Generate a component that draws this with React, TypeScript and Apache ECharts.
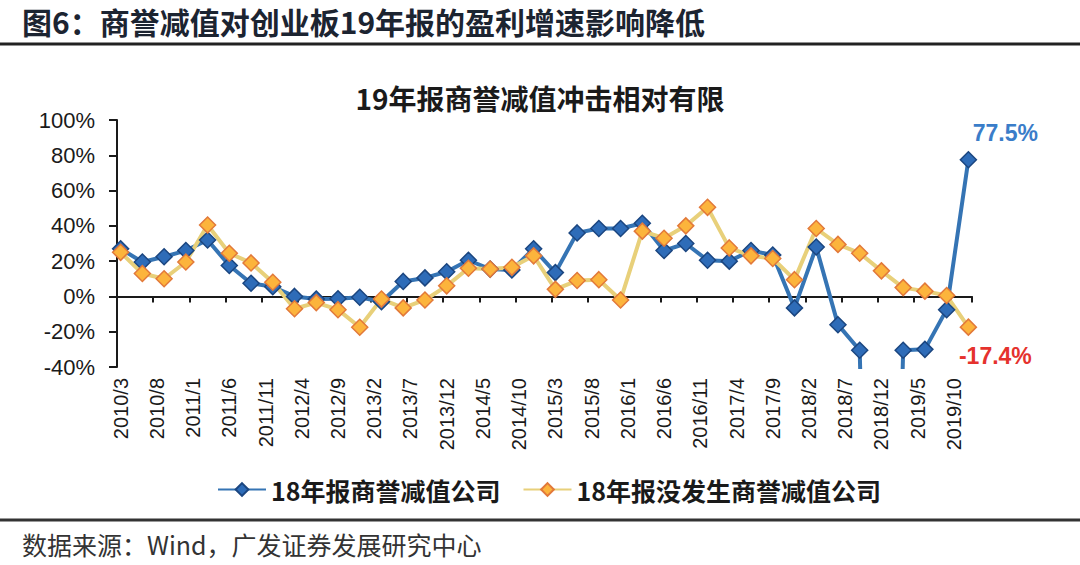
import React, { useEffect, useRef } from 'react';
import * as echarts from 'echarts';

const quarters = [
  '2010/3', '2010/6', '2010/9', '2010/12',
  '2011/3', '2011/6', '2011/9', '2011/12',
  '2012/3', '2012/6', '2012/9', '2012/12',
  '2013/3', '2013/6', '2013/9', '2013/12',
  '2014/3', '2014/6', '2014/9', '2014/12',
  '2015/3', '2015/6', '2015/9', '2015/12',
  '2016/3', '2016/6', '2016/9', '2016/12',
  '2017/3', '2017/6', '2017/9', '2017/12',
  '2018/3', '2018/6', '2018/9', '2018/12',
  '2019/3', '2019/6', '2019/9', '2019/12',
];

// 18年报商誉减值公司 (%), 2018/12 far below the axis minimum
const impairedCos = [
  27, 19.5, 22.5, 26,
  32, 17.5, 7.5, 5.5,
  0, -1.5, -1.3, -0.5,
  -3, 8.5, 10.5, 14,
  20.5, 15.5, 15, 27,
  13.5, 36, 38.5, 38.5,
  41.5, 26, 30, 20.5,
  20, 26, 23.5, -6.5,
  28, -16, -30.5, -500,
  -30.5, -30, -7.5, 77.5,
];

// 18年报没发生商誉减值公司 (%)
const nonImpairedCos = [
  25, 13, 10, 19.5,
  40.5, 24.5, 19, 8,
  -7, -3.5, -7.5, -17.5,
  -1.5, -6.5, -2, 6,
  16, 15.5, 16.5, 23,
  4, 9, 9.5, -2,
  37, 33, 40, 50.5,
  27.5, 23, 21.5, 9.5,
  38.5, 29.5, 24.5, 14.5,
  5, 3, 0.5, -17.4,
];

const seriesNames = ['18年报商誉减值公司', '18年报没发生商誉减值公司'];
const chartTitle = '19年报商誉减值冲击相对有限';
const headerText = '图6：商誉减值对创业板19年报的盈利增速影响降低';
const sourceText = '数据来源：Wind，广发证券发展研究中心';
const endLabels = ['77.5%', '-17.4%'];

function buildMonths(): string[] {
  const out: string[] = [];
  for (let y = 2010; y <= 2019; y++) {
    for (let m = 1; m <= 12; m++) {
      if (y === 2010 && m < 3) continue;
      out.push(`${y}/${m}`);
    }
  }
  return out;
}

const CJK = '"Noto Sans CJK SC", "Noto Sans", sans-serif';
const LATIN = '"Liberation Sans", Arial, sans-serif';

export default function App() {
  const ref = useRef<HTMLDivElement>(null);

  useEffect(() => {
    if (!ref.current) return;
    const chart = echarts.init(ref.current, undefined, { renderer: 'svg' });
    const months = buildMonths();
    const lastQ = quarters[quarters.length - 1];

    const toMonthly = (vals: number[], labelCfg: any) =>
      months.map((m) => {
        const i = quarters.indexOf(m);
        if (i < 0) return null;
        if (m === lastQ) return { value: vals[i], label: labelCfg };
        return vals[i];
      });

    const blueData = toMonthly(impairedCos, {
      show: true,
      position: 'top',
      offset: [37, -1],
      formatter: endLabels[0],
      fontFamily: LATIN,
      fontWeight: 'bold',
      fontSize: 23,
      color: '#3a7dc9',
    });
    const orangeData = toMonthly(nonImpairedCos, {
      show: true,
      position: 'bottom',
      offset: [27, 4],
      formatter: endLabels[1],
      fontFamily: LATIN,
      fontWeight: 'bold',
      fontSize: 23,
      color: '#e5322d',
    });

    const option: any = {
      animation: false,
      backgroundColor: '#ffffff',
      title: {
        text: chartTitle,
        left: 'center',
        top: 79,
        textStyle: { fontFamily: CJK, fontWeight: 'bold', fontSize: 28, color: '#1a1a1a' },
      },
      legend: {
        left: 212,
        top: 472,
        itemWidth: 48,
        itemHeight: 16,
        itemGap: 22,
        data: seriesNames,
        textStyle: { fontFamily: CJK, fontWeight: 'bold', fontSize: 25, color: '#1a1a1a' },
      },
      grid: { left: 117, right: 108, top: 120, bottom: 198 },
      xAxis: [
        {
          type: 'category',
          data: months,
          boundaryGap: true,
          axisLine: { onZero: true, lineStyle: { color: '#1a1a1a', width: 2 } },
          axisTick: { show: true, interval: 4, length: 6, lineStyle: { color: '#1a1a1a', width: 2 } },
          axisLabel: { show: false },
          splitLine: { show: false },
        },
        {
          type: 'category',
          data: months,
          position: 'bottom',
          boundaryGap: true,
          axisLine: { show: false, onZero: false },
          axisTick: { show: false },
          splitLine: { show: false },
          axisLabel: {
            interval: 4,
            rotate: 90,
            margin: 11,
            fontFamily: LATIN,
            fontSize: 20,
            color: '#1a1a1a',
          },
        },
      ],
      yAxis: {
        type: 'value',
        min: -40,
        max: 100,
        interval: 20,
        axisLine: { show: true, lineStyle: { color: '#1a1a1a', width: 2 } },
        axisTick: { show: true, length: 8, lineStyle: { color: '#1a1a1a', width: 2 } },
        splitLine: { show: false },
        axisLabel: {
          formatter: '{value}%',
          fontFamily: LATIN,
          fontSize: 22,
          margin: 22,
          color: '#1a1a1a',
        },
      },
      series: [
        {
          name: seriesNames[0],
          type: 'line',
          xAxisIndex: 0,
          data: blueData,
          connectNulls: true,
          clip: true,
          showAllSymbol: true,
          symbol: 'diamond',
          symbolSize: 16,
          lineStyle: { color: '#3574b4', width: 4 },
          itemStyle: { color: '#2e6cb8', borderColor: '#1b4680', borderWidth: 1.5 },
        },
        {
          name: seriesNames[1],
          type: 'line',
          xAxisIndex: 0,
          data: orangeData,
          connectNulls: true,
          clip: true,
          showAllSymbol: true,
          symbol: 'diamond',
          symbolSize: 16,
          lineStyle: { color: '#e8d07a', width: 4 },
          itemStyle: { color: '#fcb43c', borderColor: '#e2793a', borderWidth: 1.5 },
        },
      ],
      graphic: [
        {
          type: 'text',
          left: 22,
          top: 6,
          style: {
            text: headerText,
            fontFamily: CJK,
            fontWeight: 'bold',
            fontSize: 30,
            fill: '#1c2431',
          },
        },
        {
          type: 'line',
          shape: { x1: 0, y1: 44, x2: 1080, y2: 44 },
          style: { stroke: '#222222', lineWidth: 3 },
        },
        {
          type: 'line',
          shape: { x1: 0, y1: 520, x2: 1080, y2: 520 },
          style: { stroke: '#333333', lineWidth: 3 },
        },
        {
          type: 'text',
          left: 22,
          top: 531,
          style: {
            text: sourceText,
            fontFamily: CJK,
            fontSize: 25,
            fill: '#333333',
          },
        },
      ],
    };

    chart.setOption(option);
    return () => chart.dispose();
  }, []);

  return (
    <div
      ref={ref}
      style={{ position: 'fixed', left: 0, top: 0, width: 1080, height: 565, background: '#fff' }}
    />
  );
}
